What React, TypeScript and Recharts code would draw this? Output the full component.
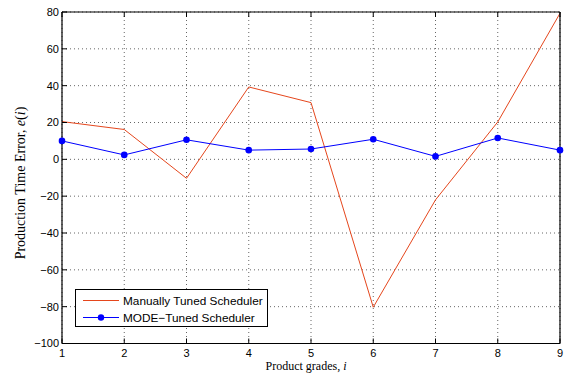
import React from "react";
import { LineChart, Line, XAxis, YAxis, CartesianGrid, Legend } from "recharts";

const grades = [1, 2, 3, 4, 5, 6, 7, 8, 9];
const manualErr = [20.5, 16.2, -10.3, 39.3, 30.8, -80.3, -22, 20.3, 79.3];
const modeErr = [10, 2.4, 10.6, 5, 5.6, 10.9, 1.6, 11.6, 5];
const xTicks = [1, 2, 3, 4, 5, 6, 7, 8, 9];
const yTicks = [-100, -80, -60, -40, -20, 0, 20, 40, 60, 80];

const seriesNames = ["Manually Tuned Scheduler", "MODE\u2212Tuned Scheduler"];
const RED = "#e5461c";
const BLUE = "#0000ff";

const data = grades.map((g, i) => ({ g, manual: manualErr[i], mode: modeErr[i] }));

const fmt = (v: number) => String(v).replace("-", "\u2212");
const tickFont = { fontFamily: "Liberation Sans, Arial, sans-serif", fontSize: 11, fill: "#000" };

const LegendBox = () => (
  <div
    style={{
      border: "1px solid #000",
      background: "#fff",
      width: 193,
      height: 38,
      boxSizing: "border-box",
      position: "relative",
    }}
  >
    <svg width={193} height={38} style={{ position: "absolute", left: -1, top: -1 }}>
      <line x1={8} x2={44} y1={11.5} y2={11.5} stroke={RED} strokeWidth={1} />
      <line x1={8} x2={44} y1={28.5} y2={28.5} stroke={BLUE} strokeWidth={1} />
      <circle cx={26} cy={28.5} r={3.2} fill={BLUE} />
      <text x={48} y={15.5} fontFamily="Liberation Sans, Arial, sans-serif" fontSize={11.8} fill="#000">{seriesNames[0]}</text>
      <text x={48} y={32.5} fontFamily="Liberation Sans, Arial, sans-serif" fontSize={11.8} fill="#000">{seriesNames[1]}</text>
    </svg>
  </div>
);

const YLabel = () => (
  <text
    x={0}
    y={0}
    transform="translate(25,183) rotate(-90)"
    textAnchor="middle"
    fontFamily="Liberation Serif, Times New Roman, serif"
    fontSize={14}
    fill="#000"
  >
    Production Time Error, <tspan fontStyle="italic">e</tspan>(<tspan fontStyle="italic">i</tspan>)
  </text>
);

const XLabel = () => (
  <text
    x={306}
    y={370}
    textAnchor="middle"
    fontFamily="Liberation Serif, Times New Roman, serif"
    fontSize={12}
    fill="#000"
  >
    Product grades, <tspan fontStyle="italic">i</tspan>
  </text>
);

export default function App() {
  return (
    <div style={{ position: "absolute", left: 0, top: 0, width: 567, height: 374, background: "#fff" }}>
      <LineChart
        width={567}
        height={374}
        data={data}
        margin={{ top: 11, right: 6, bottom: 29.5, left: 61 }}
      >
        <CartesianGrid xAxisId="b" yAxisId="l" stroke="#666" strokeDasharray="1 3" strokeWidth={1} />
        <XAxis
          xAxisId="b"
          dataKey="g"
          type="number"
          domain={[1, 9]}
          ticks={xTicks}
          height={1}
          tickSize={-5}
          tickMargin={11}
          tick={tickFont}
          axisLine={{ stroke: "#000", strokeWidth: 1.2 }}
          tickLine={{ stroke: "#000" }}
          label={<XLabel />}
        />
        <XAxis
          xAxisId="t"
          dataKey="g"
          type="number"
          orientation="top"
          domain={[1, 9]}
          ticks={xTicks}
          height={1}
          tickSize={-5}
          tickFormatter={() => ""}
          axisLine={{ stroke: "#000", strokeWidth: 1.2 }}
          tickLine={{ stroke: "#000" }}
        />
        <YAxis
          yAxisId="l"
          type="number"
          domain={[-100, 80]}
          ticks={yTicks}
          width={1}
          tickSize={-5}
          tickMargin={8}
          tickFormatter={fmt}
          tick={tickFont}
          axisLine={{ stroke: "#000", strokeWidth: 1.2 }}
          tickLine={{ stroke: "#000" }}
          label={<YLabel />}
        />
        <YAxis
          yAxisId="r"
          orientation="right"
          type="number"
          domain={[-100, 80]}
          ticks={yTicks}
          width={1}
          tickSize={-5}
          tickFormatter={() => ""}
          axisLine={{ stroke: "#000", strokeWidth: 1.2 }}
          tickLine={{ stroke: "#000" }}
        />
        <Legend
          layout="vertical"
          align="center"
          verticalAlign="middle"
          content={() => <LegendBox />}
          wrapperStyle={{ left: 75, top: 289, width: 193, height: 38 }}
        />
        <Line
          xAxisId="b"
          yAxisId="l"
          dataKey="manual"
          name={seriesNames[0]}
          stroke={RED}
          strokeWidth={1}
          dot={false}
          isAnimationActive={false}
        />
        <Line
          xAxisId="b"
          yAxisId="l"
          dataKey="mode"
          name={seriesNames[1]}
          stroke={BLUE}
          strokeWidth={1}
          dot={{ r: 3.3, fill: BLUE, stroke: BLUE, strokeWidth: 0 }}
          isAnimationActive={false}
        />
      </LineChart>
    </div>
  );
}
